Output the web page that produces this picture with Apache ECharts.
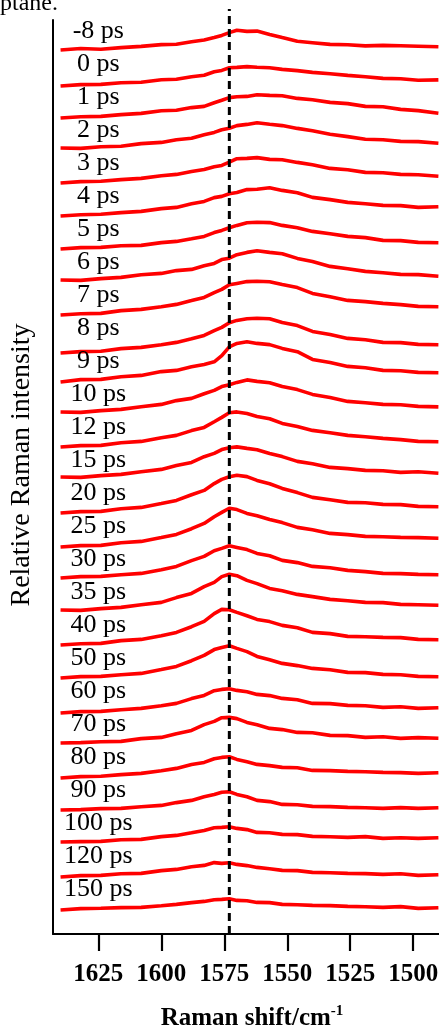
<!DOCTYPE html>
<html>
<head>
<meta charset="utf-8">
<script src="https://cdn.jsdelivr.net/npm/echarts@6/dist/echarts.min.js"></script>
<style>html,body{margin:0;padding:0;background:#fff}#chart{width:439px;height:1032px}</style>
</head>
<body>
<div id="chart"></div>
<script>
// Raman shift samples (cm-1), shared by every spectrum
const shifts = [1640, 1632, 1624, 1616, 1608, 1600, 1594, 1588, 1583, 1579, 1576, 1573, 1570, 1566, 1562, 1557, 1552, 1546, 1540, 1533, 1526, 1519, 1512, 1505, 1498, 1490];
const delays = ['-8 ps', '0 ps', '1 ps', '2 ps', '3 ps', '4 ps', '5 ps', '6 ps', '7 ps', '8 ps', '9 ps', '10 ps', '12 ps', '15 ps', '20 ps', '25 ps', '30 ps', '35 ps', '40 ps', '50 ps', '60 ps', '70 ps', '80 ps', '90 ps', '100 ps', '120 ps', '150 ps'];
const xTicks = [1500, 1525, 1550, 1575, 1600, 1625];
const bandCentre = 1573;

// relative intensities, read trace by trace
const ps_m8 = [0, 1.5, 0.8, 2.4, 3.6, 5.4, 5.8, 8.3, 10, 12.5, 14.6, 17.4, 19.8, 18.6, 18.9, 15.6, 12.4, 8.7, 7.3, 5.6, 5.2, 4.1, 4.6, 4.2, 3.8, 3.2];
const ps0 = [-3, -1.6, -1.4, 0.3, 0.8, 3.2, 3.7, 6.3, 7.8, 11.2, 12.6, 15.3, 15.6, 16.4, 15.7, 15.3, 13.6, 12.4, 10.6, 9.3, 7.6, 6.3, 4.6, 4.3, 2.7, 3.1];
const ps1 = [-2, -0.7, -0.4, 1.4, 2.6, 5.3, 5.8, 8.4, 9.6, 13.3, 15.7, 18.4, 19.3, 19.6, 21.3, 20.6, 20.2, 17.6, 16.3, 13.6, 12.4, 9.6, 9.3, 6.6, 5.4, 2.8];
const ps2 = [1, 0.6, 2.3, 2.7, 5.4, 6.6, 9.3, 10.7, 14.2, 16.6, 19.3, 20.8, 23.4, 24.6, 26.3, 24.7, 23.4, 20.6, 18.3, 14.7, 12.4, 9.7, 9.3, 7.6, 7.4, 5.8];
const ps3 = [-1, 0.4, 0.7, 2.4, 3.6, 6.3, 7.6, 10.4, 12.6, 15.3, 16.6, 19.8, 23.3, 23.6, 24.4, 22.6, 22.3, 19.6, 17.3, 13.6, 12.3, 9.6, 9.2, 7.6, 7.3, 5.8];
const ps4 = [-1, 0.3, 0.8, 2.4, 3.6, 6.4, 7.6, 11.3, 13.6, 17.4, 18.6, 21.3, 22.6, 25.4, 25.7, 27.2, 24.6, 22.3, 17.6, 15.4, 12.6, 11.3, 9.6, 9.4, 7.6, 8.2];
const ps5 = [-1, 0.4, 0.6, 2.3, 2.6, 5.4, 6.6, 9.3, 11.6, 15.4, 17.6, 20.3, 22.6, 25.3, 25.8, 25.4, 22.6, 20.3, 16.6, 14.3, 11.6, 10.4, 7.6, 7.4, 5.6, 5.2];
const ps6 = [1, 0.6, 2.4, 3.6, 6.3, 7.6, 10.4, 11.6, 15.3, 17.6, 21.4, 22.8, 26.3, 28.6, 30.2, 28.6, 27.3, 22.6, 19.4, 14.6, 12.3, 9.6, 8.3, 6.6, 6.4, 4.8];
const ps7 = [-1, 0.3, 0.6, 3.4, 4.6, 7.3, 9.6, 13.4, 16.6, 21.3, 24.6, 29.2, 30.6, 32.4, 32.8, 32.3, 29.6, 26.4, 20.6, 17.3, 13.6, 12.4, 10.6, 9.4, 7.6, 7.2];
const ps8 = [-6, -4.6, -4.3, -1.6, -0.4, 2.3, 4.6, 8.3, 11.6, 16.3, 19.6, 24.2, 26.6, 28.3, 28.8, 28.3, 24.6, 21.4, 15.6, 12.4, 8.6, 7.3, 4.6, 4.4, 2.6, 2.2];
const ps9 = [-2, 0.4, 0.6, 3.3, 4.6, 8.4, 9.6, 13.3, 15.6, 18.2, 24.3, 33.2, 36.6, 38.3, 36.6, 35.4, 31.6, 28.3, 20.6, 17.4, 13.6, 12.3, 9.6, 9.3, 7.6, 7.2];
const ps10 = [1, 0.6, 2.4, 3.6, 6.3, 8.6, 12.4, 14.6, 19.3, 22.6, 26.4, 28.2, 30.6, 33.1, 31.6, 30.3, 26.6, 23.4, 18.6, 15.4, 11.6, 10.3, 8.6, 8.3, 6.6, 6.1];
const ps12 = [-1, 0.4, 0.6, 3.3, 4.6, 8.3, 10.6, 15.4, 18.6, 24.3, 28.6, 33.2, 34.1, 32.4, 29.6, 27.3, 22.6, 19.4, 15.6, 13.3, 10.6, 9.3, 7.6, 6.4, 4.6, 4.2];
const ps15 = [2, 1.6, 3.4, 4.6, 7.3, 9.6, 13.4, 16.6, 22.3, 25.6, 29.4, 31.2, 32.1, 30.6, 29.3, 25.6, 22.4, 17.6, 15.3, 11.6, 10.4, 8.6, 8.3, 6.6, 7.3, 5.8];
const ps20 = [-1, 0.4, 0.6, 3.3, 4.6, 8.4, 11.6, 17.3, 21.6, 28.4, 32.6, 35.3, 36.8, 35.4, 31.6, 28.3, 23.6, 19.4, 14.6, 12.3, 9.6, 9.3, 7.6, 7.4, 5.6, 5.2];
const ps25 = [-2, -0.6, -0.4, 2.3, 3.6, 7.4, 10.6, 16.3, 21.6, 28.3, 32.6, 36.8, 35.4, 31.6, 29.3, 25.6, 22.4, 17.6, 15.3, 11.6, 10.4, 8.6, 8.3, 7.6, 7.4, 6.8];
const ps30 = [0, 1.4, 1.6, 3.3, 4.6, 8.3, 11.6, 17.4, 21.6, 27.3, 29.6, 32.2, 30.6, 28.4, 24.6, 22.3, 17.6, 15.4, 11.6, 10.3, 7.6, 6.4, 4.6, 4.4, 3.6, 3.2];
const ps35 = [1, 0.6, 2.4, 3.6, 6.3, 8.6, 13.4, 17.6, 24.3, 28.6, 34.4, 36.8, 35.3, 30.6, 27.4, 22.6, 20.3, 16.6, 14.4, 11.6, 10.3, 8.6, 8.4, 6.6, 6.3, 5.8];
const ps40 = [-1, 0.3, 0.6, 3.4, 4.6, 8.3, 11.6, 17.3, 22.6, 30.4, 34.6, 34.2, 31.6, 28.3, 24.6, 22.4, 18.6, 16.3, 11.6, 10.4, 7.6, 7.3, 6.6, 6.4, 4.6, 4.2];
const ps50 = [-1, 0.4, 0.6, 2.3, 3.6, 7.4, 10.6, 16.3, 21.6, 27.4, 29.6, 31.2, 28.6, 25.4, 20.6, 17.3, 13.6, 11.4, 8.6, 7.3, 4.6, 4.4, 2.6, 2.3, 0.6, 0.2];
const ps60 = [-3, -1.6, -1.4, 0.3, 1.6, 4.3, 6.6, 11.4, 14.6, 19.3, 20.6, 21.2, 19.6, 18.3, 15.6, 14.4, 11.6, 10.3, 6.6, 6.4, 4.6, 4.3, 2.6, 3.3, 1.6, 2.2];
const ps70 = [0, 0.4, 1.3, 1.6, 4.4, 5.6, 9.3, 12.6, 18.4, 21.6, 25.3, 25.6, 24.4, 20.6, 18.3, 14.6, 13.4, 10.6, 10.3, 7.6, 7.4, 5.6, 6.3, 4.6, 5.4, 4.8];
const ps80 = [-2, -0.6, -0.3, 1.4, 2.6, 5.3, 7.6, 11.4, 13.6, 17.3, 18.6, 19.2, 16.6, 14.3, 11.6, 10.4, 8.6, 8.3, 5.6, 5.4, 4.6, 4.3, 3.6, 3.4, 2.6, 3.2];
const ps90 = [-1, -0.6, 0.4, 0.6, 2.3, 3.6, 6.4, 8.6, 12.3, 14.6, 16.8, 17.2, 14.6, 12.3, 8.6, 7.4, 4.6, 4.3, 2.6, 2.4, 1.6, 1.3, 0.6, 1.4, 0.6, 1.2];
const ps100 = [0, 0.4, 0.6, 2.3, 2.6, 5.4, 6.6, 9.3, 11.6, 14.3, 14.6, 15.2, 13.6, 12.4, 9.6, 9.3, 7.6, 7.4, 5.6, 5.3, 4.6, 5.4, 3.6, 4.3, 3.6, 4.2];
const ps120 = [-2, -0.6, -0.4, 1.3, 1.6, 4.4, 5.6, 8.3, 9.6, 12.4, 11.6, 12.3, 10.6, 9.4, 7.6, 6.3, 4.6, 4.4, 2.6, 2.3, 1.6, 1.4, 0.6, 1.3, -0.4, 0.2];
const ps150 = [-2, -0.6, -0.3, 0.4, 0.6, 2.3, 3.6, 5.4, 6.6, 8.3, 8.6, 9.2, 7.6, 7.3, 5.6, 5.4, 3.6, 3.3, 2.6, 2.4, 1.6, 1.3, 0.6, 1.4, -0.4, 0.2];

const traces = [ps_m8, ps0, ps1, ps2, ps3, ps4, ps5, ps6, ps7, ps8, ps9, ps10, ps12, ps15, ps20, ps25, ps30, ps35, ps40, ps50, ps60, ps70, ps80, ps90, ps100, ps120, ps150];

const serif = '"Liberation Serif", "Times New Roman", serif';
const yTop = 914;      // y axis range, one unit per pixel
const firstBase = 884; // offset of the -8 ps trace
const step = 33;       // vertical spacing between traces
const labelLift = 19;

const chart = echarts.init(document.getElementById('chart'));

const series = traces.map((vals, k) => {
  const base = firstBase - k * step;
  return {
    type: 'line',
    name: delays[k],
    data: shifts.map((x, i) => [x, base + vals[i]]),
    showSymbol: false,
    symbol: 'none',
    lineStyle: { color: '#ff0000', width: 3.6 },
    silent: true,
    markPoint: {
      symbol: 'circle',
      symbolSize: 0,
      silent: true,
      label: {
        show: true,
        position: 'inside',
        formatter: delays[k],
        color: '#000',
        fontFamily: serif,
        fontSize: 26
      },
      data: [{ coord: [1625, base + labelLift] }]
    }
  };
});

// dashed marker at the band centre
series.push({
  type: 'line',
  data: [[bandCentre, 0], [bandCentre, yTop + 11]],
  clip: false,
  symbol: 'none',
  silent: true,
  z: 5,
  lineStyle: { color: '#000', width: 3, type: [8, 5] }
});

chart.setOption({
  animation: false,
  backgroundColor: '#fff',
  grid: { left: 53, top: 20, width: 398, height: 914, outerBoundsMode: 'none', containLabel: false },
  graphic: [{
    type: 'text', left: 0, top: -8,
    style: { text: 'ptane.', font: '24px "Liberation Serif"', fill: '#000' }
  }],
  xAxis: {
    type: 'value',
    inverse: true,
    min: 1485,
    max: 1643,
    axisLine: { onZero: false, lineStyle: { color: '#000', width: 2 } },
    axisTick: { show: true, length: 17, customValues: xTicks, lineStyle: { color: '#000', width: 2.2 } },
    axisLabel: {
      customValues: xTicks, margin: 28, color: '#000',
      fontFamily: serif, fontSize: 25, fontWeight: 'bold',
      formatter: v => String(v)
    },
    splitLine: { show: false },
    name: '{a|Raman shift/cm}{b|-1}',
    nameLocation: 'middle',
    nameGap: 70,
    nameTextStyle: {
      rich: {
        a: { fontFamily: serif, fontSize: 25, fontWeight: 'bold', color: '#000', lineHeight: 30 },
        b: { fontFamily: serif, fontSize: 15, fontWeight: 'bold', color: '#000', verticalAlign: 'top', lineHeight: 14 }
      }
    }
  },
  yAxis: {
    type: 'value',
    min: 0,
    max: yTop,
    axisLine: { show: true, onZero: false, lineStyle: { color: '#000', width: 2 } },
    axisTick: { show: false },
    axisLabel: { show: false },
    splitLine: { show: false },
    name: 'Relative Raman intensity',
    nameLocation: 'middle',
    nameGap: 17,
    nameTextStyle: { fontFamily: serif, fontSize: 28, color: '#000', padding: [0, 0, 0, 24] }
  },
  series: series
});
</script>
</body>
</html>
